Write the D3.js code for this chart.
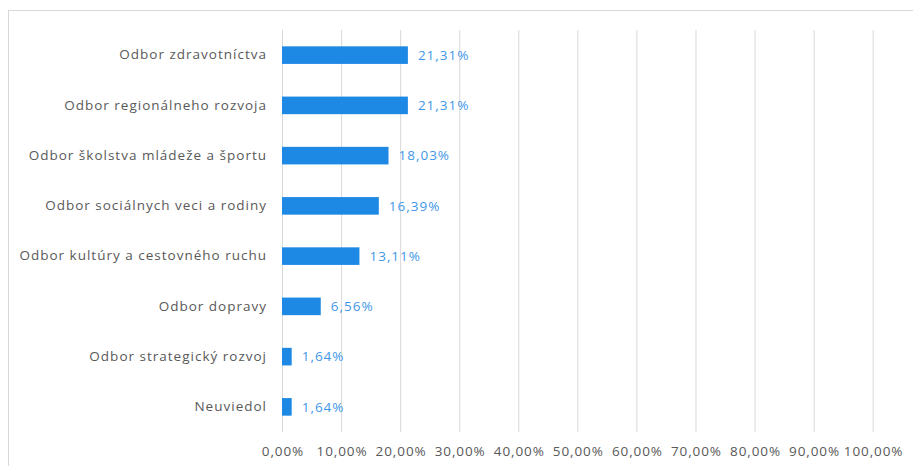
<!DOCTYPE html>
<html>
<head>
<meta charset="utf-8">
<script src="https://cdn.jsdelivr.net/npm/d3@7"></script>
<style>
  html, body { margin: 0; padding: 0; background: #fff; }
  svg text { font-family: "Open Sans", "DejaVu Sans", sans-serif; }
</style>
</head>
<body>
<svg id="chart" width="913" height="466"></svg>
<script>
// Share of responses by department (percent)
const categories = [
  "Odbor zdravotníctva",
  "Odbor regionálneho rozvoja",
  "Odbor školstva mládeže a športu",
  "Odbor sociálnych veci a rodiny",
  "Odbor kultúry a cestovného ruchu",
  "Odbor dopravy",
  "Odbor strategický rozvoj",
  "Neuviedol"
];
const values = [21.31, 21.31, 18.03, 16.39, 13.11, 6.56, 1.64, 1.64];
const tickValues = [0, 10, 20, 30, 40, 50, 60, 70, 80, 90, 100];

const fmt = v => v.toFixed(2).replace(".", ",") + "%";

const svg = d3.select("#chart");
const W = 913, H = 466;

// Chart frame
svg.append("rect")
  .attr("x", 8.5).attr("y", 10.5)
  .attr("width", W + 20).attr("height", H + 20)
  .attr("fill", "#fff").attr("stroke", "#d9d9d9").attr("stroke-width", 1);

const x = d3.scaleLinear().domain([0, 100]).range([282, 872.7]);
const y = d3.scaleBand().domain(categories).range([30, 432]).paddingInner(0.65).paddingOuter(0.325);

// Vertical gridlines
const grid = svg.append("g")
  .attr("transform", "translate(0,432)")
  .call(d3.axisBottom(x).tickValues(tickValues).tickSize(-(432 - 30)).tickFormat(""));
grid.select(".domain").remove();
grid.selectAll(".tick line").attr("stroke", "#d9d9d9").attr("stroke-width", 1);

// Tick labels
const xAxis = svg.append("g")
  .attr("transform", "translate(0,432)")
  .call(d3.axisBottom(x).tickValues(tickValues).tickSize(0).tickPadding(14).tickFormat(fmt));
xAxis.select(".domain").remove();
xAxis.selectAll("text")
  .attr("fill", "#595959")
  .attr("dx", "0.45px")
  .style("font-size", "13.5px")
  .style("letter-spacing", "0.9px");

// Category labels
const yAxis = svg.append("g")
  .attr("transform", "translate(282,0)")
  .call(d3.axisLeft(y).tickSize(0).tickPadding(15));
yAxis.select(".domain").remove();
yAxis.selectAll("text")
  .attr("fill", "#595959")
  .style("font-size", "13.5px")
  .style("letter-spacing", "1px");

// Bars
svg.append("g").selectAll("rect")
  .data(values)
  .join("rect")
  .attr("x", x(0))
  .attr("y", (d, i) => y(categories[i]))
  .attr("width", d => x(d) - x(0))
  .attr("height", y.bandwidth())
  .attr("fill", "#1e88e5");

// Value labels
svg.append("g").selectAll("text")
  .data(values)
  .join("text")
  .attr("x", d => x(d) + 10)
  .attr("y", (d, i) => y(categories[i]) + y.bandwidth() / 2)
  .attr("dy", "0.35em")
  .attr("fill", "#3f97e8")
  .style("font-size", "13.5px")
  .style("letter-spacing", "1px")
  .text(fmt);
</script>
</body>
</html>
